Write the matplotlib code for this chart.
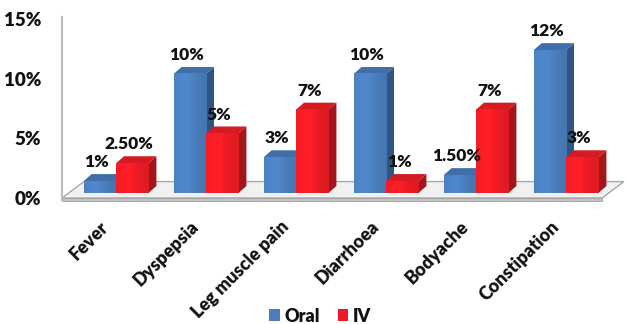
import numpy as np
import matplotlib
matplotlib.use("Agg")
import matplotlib.pyplot as plt
from matplotlib.patches import Polygon, Patch
import matplotlib.transforms as mtransforms

plt.rcParams['font.family'] = ['Lato', 'DejaVu Sans']
plt.rcParams['font.weight'] = 'heavy'

# ---- data -------------------------------------------------------------
categories = ["Fever", "Dyspepsia", "Leg muscle pain", "Diarrhoea",
              "Bodyache", "Constipation"]
oral = [1, 10, 3, 10, 1.5, 12]
iv = [2.5, 5, 7, 1, 7, 3]
series_names = ["Oral", "IV"]
yticks = [0, 5, 10, 15]

# ---- styling ----------------------------------------------------------
face = {"Oral": ("#4a7ebd", "#3f6ea9", "#2f5585"),
        "IV": ("#ed1c24", "#d41b22", "#a3161b")}
text_color = "#111111"
bar_w = 0.36          # bar width in category units
depth_x = 0.089       # oblique depth, x (category units)
depth_y = 0.59        # oblique depth, y (percent units)

fig = plt.figure(figsize=(6.26, 3.24), dpi=100)
W, H = 626, 324
left_px, right_px, bottom_px, top_px = 62, 626, 200, 17
ax = fig.add_axes([left_px / W, (H - bottom_px) / H,
                   (right_px - left_px) / W, (bottom_px - top_px) / H])
ax.set_xlim(-0.6, 5.6667)
ax.set_ylim(-0.588, 14.79)
for s in ["top", "right", "bottom"]:
    ax.spines[s].set_visible(False)
ax.spines["left"].set_color("#bdbdbd")
ax.spines["left"].set_linewidth(1.6)
ax.set_yticks([])
ax.patch.set_visible(False)

# floor slab
fl_front, fl_back = -0.42, 0.96
floor_top = Polygon([(-0.6, fl_front), (5.4, fl_front), (5.644, fl_back),
                     (-0.356, fl_back)], closed=True, facecolor="#f1f1f1",
                    edgecolor="#a8a8a8", linewidth=1.0, zorder=1, clip_on=False)
ax.add_patch(floor_top)
floor_edge = Polygon([(-0.6, fl_front), (5.4, fl_front), (5.4, fl_front - 0.25),
                      (-0.6, fl_front - 0.25)], closed=True, facecolor="#c4c4c4",
                     edgecolor="#a0a0a0", linewidth=0.6, zorder=1, clip_on=False)
ax.add_patch(floor_edge)


def draw_bar(x0, value, colors, z):
    front, top, side = colors
    x1 = x0 + bar_w
    # side face
    ax.add_patch(Polygon([(x1, 0), (x1, value), (x1 + depth_x, value + depth_y),
                          (x1 + depth_x, depth_y)], closed=True,
                         facecolor=side, edgecolor="none", zorder=z))
    # top face
    ax.add_patch(Polygon([(x0, value), (x1, value), (x1 + depth_x, value + depth_y),
                          (x0 + depth_x, value + depth_y)], closed=True,
                         facecolor=top, edgecolor="none", zorder=z))
    # front face with a soft horizontal sheen
    rgb = np.array(matplotlib.colors.to_rgb(front))
    t = np.linspace(0, 1, 64)
    shade = 1.0 + 0.10 * np.exp(-((t - 0.35) / 0.3) ** 2) - 0.06 * t
    img = np.clip(rgb[None, :] * shade[:, None], 0, 1)[None, :, :]
    ax.imshow(img, extent=(x0, x1, 0, value), aspect="auto",
              interpolation="bilinear", zorder=z + 0.1)


def fmt(v):
    return f"{v:.0f}%" if float(v).is_integer() else f"{v:.2f}%"


label_tf = mtransforms.offset_copy(ax.transData, fig=fig, x=-3, y=14, units="dots")
for i, (o, r) in enumerate(zip(oral, iv)):
    z = 2 + i * 2
    draw_bar(i - bar_w, o, face["Oral"], z)
    draw_bar(i, r, face["IV"], z + 1)
    ax.text(i - bar_w / 2, o, fmt(o), transform=label_tf, ha="center",
            va="baseline", fontsize=12.5, color=text_color, zorder=30)
    ax.text(i + bar_w / 2, r, fmt(r), transform=label_tf, ha="center",
            va="baseline", fontsize=12.5, color=text_color, zorder=30)

# wall tick labels
tick_tf = mtransforms.offset_copy(ax.get_yaxis_transform(), fig=fig,
                                  x=-21, y=-6, units="dots")
for v in yticks:
    ax.text(0, v, f"{v}%", transform=tick_tf, ha="right", va="center",
            fontsize=13.5, color=text_color, clip_on=False)

# category labels
cat_tf = mtransforms.offset_copy(ax.get_xaxis_transform(), fig=fig,
                                 x=-10, y=-24, units="dots")
for i, c in enumerate(categories):
    ax.text(i, 0, c, transform=cat_tf, rotation=45, rotation_mode="anchor",
            ha="right", va="center", fontsize=13, color=text_color, clip_on=False)
ax.set_xticks([])

handles = [Patch(facecolor=face[n][0], edgecolor="none", label=n) for n in series_names]
fig.legend(handles=handles, loc="center", bbox_to_anchor=(320 / W, 1 - 316 / H),
           ncol=2, frameon=False, handlelength=0.6, handleheight=0.6,
           handletextpad=0.25, columnspacing=1.0, fontsize=13,
           labelcolor=text_color, borderpad=0.2)

fig.savefig("out.png", dpi=100)
